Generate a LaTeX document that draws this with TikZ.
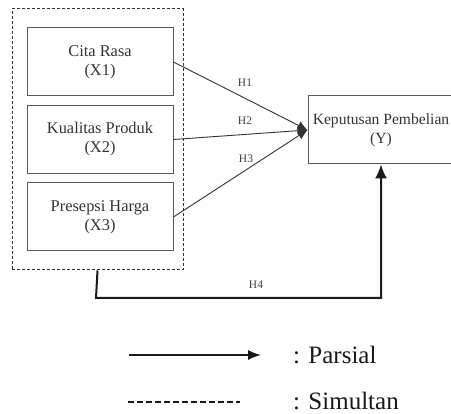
\documentclass[tikz,border=0pt]{standalone}
\usepackage{fontspec}
\setmainfont{Liberation Serif}
\usetikzlibrary{arrows.meta}
\begin{document}
\begin{tikzpicture}[x=1pt,y=-1pt,
  varbox/.style={draw=black!65, line width=1pt, minimum width=146pt, minimum height=68pt,
    align=center, inner sep=0pt, text=black!80, font=\fontsize{16.4}{19}\selectfont},
  hlabel/.style={text=black!75, font=\fontsize{11.5}{12}\selectfont, inner sep=0pt},
  legtext/.style={anchor=west, inner sep=0pt, text=black!90, font=\fontsize{25}{28}\selectfont},
  pathline/.style={draw=black!80, line width=0.9pt},
  simline/.style={line width=1pt, dash pattern=on 3pt off 2pt, draw=black!80}]
\useasboundingbox (0,0) rectangle (451,414);
\node[simline, draw, minimum width=171pt, minimum height=261pt, inner sep=0pt] (grp) at (97.5,139.5) {};
\node[varbox] (x1) at (100,62) {Cita Rasa\\(X1)};
\node[varbox] (x2) at (100,139.5) {Kualitas Produk\\(X2)};
\node[varbox] (x3) at (100,217) {Presepsi Harga\\(X3)};
\node[varbox, minimum width=146pt, font=\fontsize{15.6}{19}\selectfont] (y) at (381,130) {Keputusan Pembelian\\(Y)};
\draw[pathline, -{Latex[length=10pt,width=9pt]}] (x1.east) -- (y.west);
\draw[pathline, -{Latex[length=10pt,width=9pt]}] (x2.east) -- (y.west);
\draw[pathline, -{Latex[length=10pt,width=9pt]}] (x3.east) -- (y.west);
\node[hlabel] (h1) at (245,83) {H1};
\node[hlabel] (h2) at (245,121) {H2};
\node[hlabel] (h3) at (246,159) {H3};
\coordinate (turn) at (96,298);
\draw[draw=black!90, line width=2pt, -{Latex[length=14pt,width=12pt]}] (grp.south) -- (turn) -| (y.south);
\node[hlabel] (h4) at (256,285) {H4};
\coordinate (la1) at (129,355);
\coordinate (la2) at (261,355);
\draw[draw=black!90, line width=1.6pt, -{Latex[length=13pt,width=10pt]}] (la1) -- (la2);
\node[legtext] (parsial) at (293,355) {: Parsial};
\coordinate (ld1) at (128,402);
\coordinate (ld2) at (240,402);
\draw[draw=black!90, line width=1.4pt, dash pattern=on 6pt off 3pt] (ld1) -- (ld2);
\node[legtext] (simultan) at (293,401) {: Simultan};
\end{tikzpicture}
\end{document}
